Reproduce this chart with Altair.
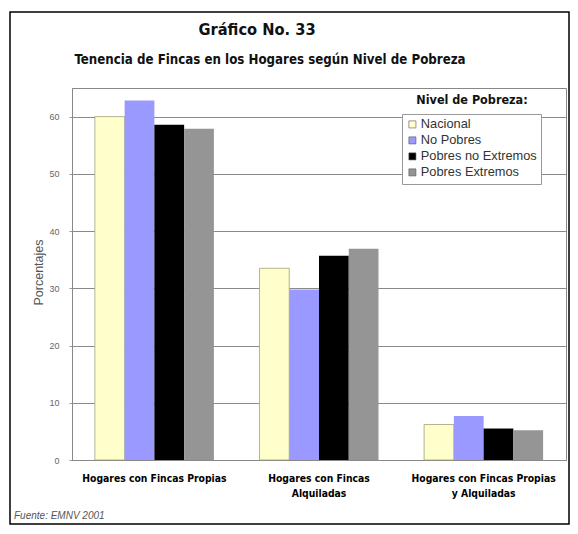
import altair as alt
import pandas as pd

# ---- data ----
grupos = ["Hogares con Fincas Propias",
          "Hogares con Fincas|Alquiladas",
          "Hogares con Fincas Propias|y Alquiladas"]
niveles = ["Nacional", "No Pobres", "Pobres no Extremos", "Pobres Extremos"]
nacional = [60.0, 33.5, 6.2]
no_pobres = [62.8, 29.8, 7.7]
pobres_no_ext = [58.6, 35.7, 5.5]
pobres_ext = [57.9, 36.9, 5.2]
colores = ["#FFFFCC", "#9999FF", "#000000", "#959595"]
y_ticks = [0, 10, 20, 30, 40, 50, 60]

titulo1 = "Gráfico No. 33"
titulo2 = "Tenencia de Fincas en los Hogares según Nivel de Pobreza"
leyenda_titulo = "Nivel de Pobreza:"
fuente = "Fuente: EMNV 2001"

series = [nacional, no_pobres, pobres_no_ext, pobres_ext]
rows = []
for nivel, vals in zip(niveles, series):
    for g, v in zip(grupos, vals):
        rows.append({"grupo": g, "nivel": nivel, "valor": v})
df = pd.DataFrame(rows)

NARROW = "Liberation Sans Narrow, DejaVu Sans Condensed, Arial Narrow, sans-serif"
REG = "Liberation Sans, Arial, sans-serif"

W, H = 494, 372

bars = alt.Chart(df).mark_bar().encode(
    x=alt.X("grupo:N", sort=grupos,
            scale=alt.Scale(paddingInner=0.277, paddingOuter=0.139),
            axis=alt.Axis(title=None, labelAngle=0,
                          labelExpr="split(datum.label, '|')",
                          labelFont=NARROW, labelFontWeight="bold",
                          labelFontSize=10.3, labelColor="#000000",
                          labelLineHeight=15, labelPadding=13,
                          ticks=False, domainColor="#888888")),
    xOffset=alt.XOffset("nivel:N", sort=niveles,
                        scale=alt.Scale(paddingInner=0, paddingOuter=0)),
    y=alt.Y("valor:Q",
            scale=alt.Scale(domain=[0, 65], nice=False),
            axis=alt.Axis(values=y_ticks, title="Porcentajes",
                          titleFont=REG, titleFontSize=12.5,
                          titleFontWeight="normal", titleColor="#555555",
                          titleX=-34, titleY=184, titleAngle=-90,
                          titleAlign="center", titleBaseline="middle",
                          labelFont=REG, labelFontSize=9,
                          labelColor="#666666", labelPadding=10,
                          tickSize=3, tickColor="#999999",
                          domainColor="#888888", gridColor="#8a8a8a")),
    color=alt.Color("nivel:N", sort=niveles,
                    scale=alt.Scale(domain=niveles, range=colores),
                    legend=alt.Legend(title=None, orient="none",
                                      legendX=330, legendY=26,
                                      symbolType="square", symbolSize=50,
                                      symbolStrokeColor="#555555",
                                      symbolStrokeWidth=0.6,
                                      labelFont=REG, labelFontSize=12.8,
                                      labelColor="#333333",
                                      rowPadding=2, padding=4,
                                      strokeColor="#999999",
                                      fillColor="#ffffff",
                                      labelOffset=2)),
    stroke=alt.condition("datum.nivel == 'Nacional'",
                         alt.value("#a0a078"), alt.value("transparent")),
    strokeWidth=alt.value(0.8),
)

t1 = alt.Chart(pd.DataFrame({"t": [titulo1]})).mark_text(
    font=NARROW, fontWeight="bold", fontSize=16.3, color="#111111",
    align="center", baseline="middle").encode(
    text="t:N", x=alt.value(185), y=alt.value(-58))

t2 = alt.Chart(pd.DataFrame({"t": [titulo2]})).mark_text(
    font=NARROW, fontWeight="bold", fontSize=13.2, color="#111111",
    align="center", baseline="middle").encode(
    text="t:N", x=alt.value(198), y=alt.value(-28))

tl = alt.Chart(pd.DataFrame({"t": [leyenda_titulo]})).mark_text(
    font=NARROW, fontWeight="bold", fontSize=12.5, color="#111111",
    align="center", baseline="middle").encode(
    text="t:N", x=alt.value(400), y=alt.value(12))

tf = alt.Chart(pd.DataFrame({"t": [fuente]})).mark_text(
    font=REG, fontStyle="italic", fontSize=10, color="#555555",
    align="left", baseline="middle").encode(
    text="t:N", x=alt.value(-58), y=alt.value(428))

frame = alt.Chart(pd.DataFrame({"a": [0]})).mark_rect(
    fill="transparent", stroke="#000000", strokeWidth=1.5).encode(
    x=alt.value(-62), x2=alt.value(497), y=alt.value(-76), y2=alt.value(436))

chart = alt.layer(bars, t1, t2, tl, tf, frame).properties(
    width=W, height=H,
    autosize=alt.AutoSizeParams(type="none"),
    padding={"left": 64, "top": 80, "right": 4, "bottom": 66},
    background="#ffffff",
).configure_view(stroke="#888888", strokeWidth=1)

chart.save("out.html", embed_options={"renderer": "svg", "actions": False})
